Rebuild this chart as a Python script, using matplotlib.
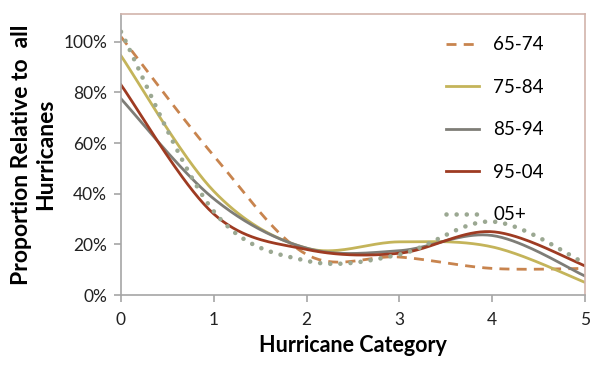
import numpy as np
import matplotlib
matplotlib.use("Agg")
import matplotlib.pyplot as plt

# --- data (proportion at each category) ---
categories = [0, 1, 2, 3, 4, 5]
s_65_74 = [1.02, 0.55, 0.16, 0.15, 0.105, 0.105]
s_75_84 = [0.945, 0.41, 0.185, 0.21, 0.19, 0.05]
s_85_94 = [0.775, 0.38, 0.185, 0.175, 0.235, 0.075]
s_95_04 = [0.83, 0.32, 0.18, 0.165, 0.25, 0.115]
s_05_plus = [1.04, 0.33, 0.135, 0.16, 0.29, 0.125]
labels = ["65-74", "75-84", "85-94", "95-04", "05+"]


def smooth(x, y, n=40):
    # excel-style smoothed line (bezier through each point)
    x = np.asarray(x, float)
    y = np.asarray(y, float)
    px = np.concatenate([[x[0]], x, [x[-1]]])
    py = np.concatenate([[y[0]], y, [y[-1]]])
    xs, ys = [], []
    t = np.linspace(0, 1, n)
    for i in range(1, len(x)):
        p0 = np.array([px[i], py[i]])
        p3 = np.array([px[i + 1], py[i + 1]])
        c1 = p0 + (np.array([px[i + 1], py[i + 1]]) - np.array([px[i - 1], py[i - 1]])) / 6
        c2 = p3 - (np.array([px[i + 2], py[i + 2]]) - np.array([px[i], py[i]])) / 6
        b = ((1 - t) ** 3)[:, None] * p0 + (3 * (1 - t) ** 2 * t)[:, None] * c1 \
            + (3 * (1 - t) * t ** 2)[:, None] * c2 + (t ** 3)[:, None] * p3
        xs.extend(b[:, 0])
        ys.extend(b[:, 1])
    return np.array(xs), np.array(ys)


plt.rcParams['font.family'] = ['Lato', 'DejaVu Sans']

fig = plt.figure(figsize=(6.06, 3.65), dpi=100)
ax = fig.add_axes([121 / 606, 1 - 295 / 365, 464 / 606, 281 / 365])

styles = [
    dict(color="#C8844E", linestyle=(0, (3.6, 2.6)), lw=2.0),
    dict(color="#C4B45A", linestyle="-", lw=2.0),
    dict(color="#7E7D77", linestyle="-", lw=2.0),
    dict(color="#9E3B22", linestyle="-", lw=2.0),
    dict(color="#9BA892", linestyle=(0, (0.01, 2.2)), lw=3.3, dash_capstyle="round"),
]
series = [s_65_74, s_75_84, s_85_94, s_95_04, s_05_plus]

for vals, lab, st in zip(series, labels, styles):
    xs, ys = smooth(categories, vals)
    ax.plot(xs, ys, label=lab, **st)

ax.set_xlim(0, 5)
ax.set_ylim(0, 1.11)
ax.set_xticks(categories)
ax.set_yticks([0, 0.2, 0.4, 0.6, 0.8, 1.0])
ax.set_yticklabels(["0%", "20%", "40%", "60%", "80%", "100%"])

for sp in ["left", "bottom"]:
    ax.spines[sp].set_color("#A6A6A6")
    ax.spines[sp].set_linewidth(1.2)
for sp in ["top", "right"]:
    ax.spines[sp].set_color("#D2B4AC")
    ax.spines[sp].set_linewidth(1.2)

ax.tick_params(axis="both", direction="out", length=5, width=1.2, color="#A6A6A6",
               labelsize=12.5, labelcolor="#222222")
ax.tick_params(axis="x", pad=7)
ax.tick_params(axis="y", pad=5)

ax.set_xlabel("Hurricane Category", fontsize=15.5, fontweight="bold", labelpad=5)
ax.set_ylabel("Proportion Relative to  all\nHurricanes", fontsize=16.5, fontweight="bold",
              linespacing=1.22, labelpad=5)

leg = ax.legend(loc="upper left", frameon=False, fontsize=13.5, handlelength=1.75,
                labelspacing=1.36, handletextpad=0.75, borderpad=0,
                bbox_to_anchor=(316 / 464, 1 - 13 / 281))

fig.savefig("out.png", dpi=100)
